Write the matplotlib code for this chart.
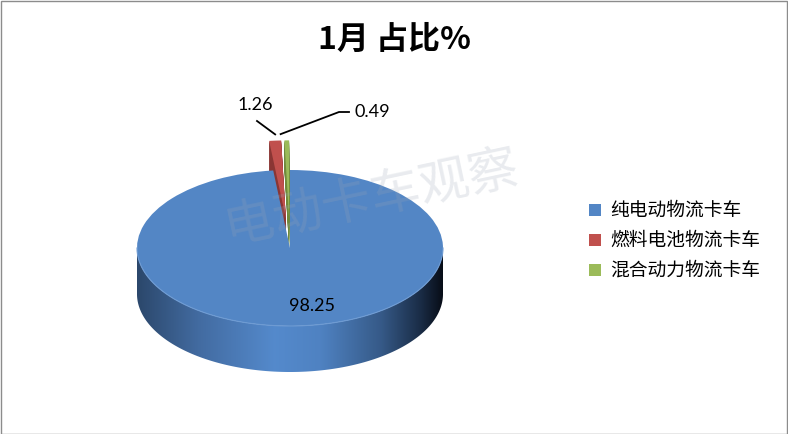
import numpy as np
import matplotlib
matplotlib.use('Agg')
import matplotlib.pyplot as plt
from matplotlib.patches import Wedge, Polygon, Rectangle
from matplotlib.transforms import Affine2D

plt.rcParams['font.family'] = ['Noto Sans CJK SC', 'DejaVu Sans']

# data
categories = ['纯电动物流卡车', '燃料电池物流卡车', '混合动力物流卡车']
shares = [98.25, 1.26, 0.49]
value_labels = ['98.25', '1.26', '0.49']
title = '1月 占比%'
watermark = '电动卡车观察'

# styles
colors = ['#5386C5', '#C0504D', '#9BBB59']
side_colors = ['#3A5F8F', '#8A3634', '#6F8A3C']
explode = [0.0, 0.38, 0.38]

fig = plt.figure(figsize=(7.88, 4.34), dpi=100)
ax = fig.add_axes([0, 0, 1, 1])
ax.set_xlim(0, 788)
ax.set_ylim(434, 0)
ax.axis('off')

# pie geometry (pixel units)
cx, cy, rx, ry, depth = 290, 248, 153, 78, 46

def pie_tf(dy=0):
    return Affine2D().scale(rx, -ry).translate(cx, cy + dy) + ax.transData

def to_px(u, v, dy=0):
    return cx + u * rx, cy - v * ry + dy

total = sum(shares)
ends = 90 - 360 * np.cumsum(shares) / total
starts = np.concatenate([[90], ends[:-1]])
mids = np.radians((starts + ends) / 2)

# small exploded slices (behind the big one)
for i in range(1, len(shares)):
    c = (explode[i] * np.cos(mids[i]), explode[i] * np.sin(mids[i]))
    for k in range(30, 0, -1):
        ax.add_patch(Wedge(c, 1, ends[i], starts[i], facecolor=side_colors[i],
                           edgecolor='none', transform=pie_tf(k)))
    ax.add_patch(Wedge(c, 1, ends[i], starts[i], facecolor=colors[i],
                       edgecolor='none', transform=pie_tf()))

# side of big slice with a shaded gradient
th = np.radians(np.linspace(180, 360, 300))
xs = cx + rx * np.cos(th)
ytop = cy - ry * np.sin(th)
side_pts = np.vstack([np.column_stack([xs, ytop]),
                      np.column_stack([xs[::-1], ytop[::-1] + depth])])
side = Polygon(side_pts, closed=True, facecolor='none', edgecolor='none')
ax.add_patch(side)
g = np.linspace(0, 1, 500)
pos = [0.0, 0.2, 0.45, 0.6, 0.8, 0.93, 1.0]
stops = np.array([[0.17, 0.28, 0.42],
                  [0.26, 0.42, 0.63],
                  [0.33, 0.54, 0.80],
                  [0.31, 0.51, 0.76],
                  [0.21, 0.35, 0.53],
                  [0.10, 0.17, 0.27],
                  [0.03, 0.05, 0.09]])
grad = np.stack([np.interp(g, pos, stops[:, j]) for j in range(3)], axis=-1)[None, :, :]
im = ax.imshow(grad, extent=(cx - rx, cx + rx, cy + ry + depth, cy),
               aspect='auto', origin='upper', zorder=1)
im.set_clip_path(side)

# top of big slice
c0 = (explode[0] * np.cos(mids[0]), explode[0] * np.sin(mids[0]))
ax.add_patch(Wedge(c0, 1, ends[0], starts[0], facecolor=colors[0],
                   edgecolor='none', transform=pie_tf(), zorder=2))
ax.plot(xs, ytop, color='#6E9BD3', lw=0.8, zorder=2)

ax.set_xlim(0, 788)
ax.set_ylim(434, 0)

# value labels
lx, ly = to_px(0.75 * np.cos(mids[0]) + 0.1, 0.75 * np.sin(mids[0]))
ax.text(lx, ly, value_labels[0], ha='center', va='center', fontsize=13,
        family=['Lato', 'DejaVu Sans'], zorder=5)

tip1 = to_px((1 + explode[1]) * np.cos(mids[1]), (1 + explode[1]) * np.sin(mids[1]) + 0.08)
ax.plot([257, tip1[0]], [121, tip1[1]], color='black', lw=1.3, zorder=5)
ax.text(255, 105, value_labels[1], ha='center', va='center', fontsize=13,
        family=['Lato', 'DejaVu Sans'], zorder=5)

tip2 = to_px((1 + explode[2]) * np.cos(mids[2]) - 0.04, (1 + explode[2]) * np.sin(mids[2]) + 0.08)
ax.plot([tip2[0], 339, 349], [tip2[1], 112, 112], color='black', lw=1.3, zorder=5)
ax.text(372, 112, value_labels[2], ha='center', va='center', fontsize=13,
        family=['Lato', 'DejaVu Sans'], zorder=5)

# title
ax.text(394, 40, title, ha='center', va='center', fontsize=23,
        fontweight='bold', zorder=5)

# watermark
ax.text(372, 198, watermark, ha='center', va='center', fontsize=36,
        rotation=12, color='#9AA5B5', alpha=0.22, zorder=6)

# legend
for i, name in enumerate(categories):
    y = 210 + 30 * i
    ax.add_patch(Rectangle((589, y - 6), 12, 12, facecolor=colors[i],
                           edgecolor='none', zorder=5))
    ax.text(610, y, name, ha='left', va='center', fontsize=13.5, zorder=5)

# chart border
ax.add_patch(Rectangle((0.5, 0.5), 787, 433, facecolor='none',
                       edgecolor='#8C8C8C', lw=1, zorder=7))

fig.savefig('out.png', dpi=100)
